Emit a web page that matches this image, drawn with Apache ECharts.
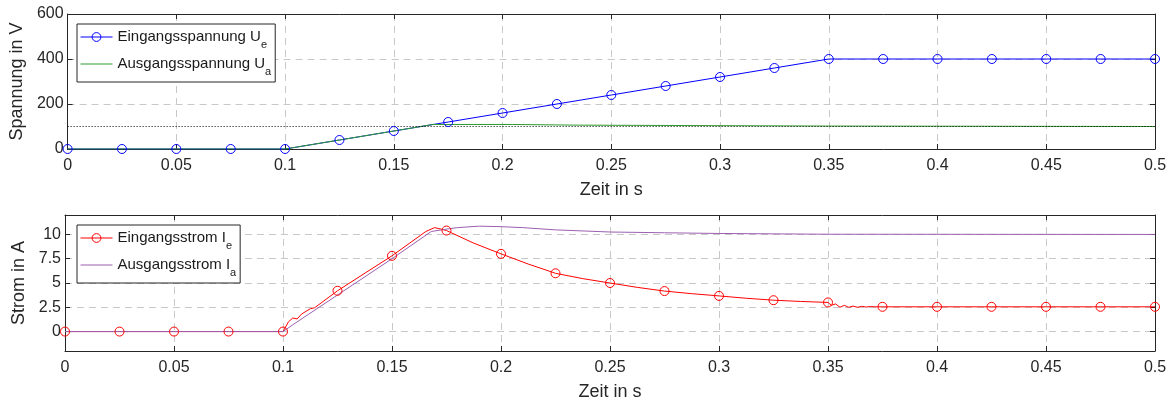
<!DOCTYPE html>
<html>
<head>
<meta charset="utf-8">
<script src="https://cdn.jsdelivr.net/npm/echarts@6/dist/echarts.min.js"></script>
<style>
    html, body { margin: 0; padding: 0; background: #fff; }
    #chart { width: 1176px; height: 405px; }
</style>
</head>
<body>
<div id="chart"></div>
<script>
    // Spannungen (oben)
    const ueT = [0, 0.025, 0.05, 0.075, 0.1, 0.125, 0.15, 0.175, 0.2, 0.225, 0.25, 0.275, 0.3, 0.325, 0.35, 0.375, 0.4, 0.425, 0.45, 0.475, 0.5]
    const ueV = [0, 0, 0, 0, 0, 40, 80, 120, 160, 200, 240, 280, 320, 360, 400, 400, 400, 400, 400, 400, 400]
    const uaT = [0, 0.1, 0.125, 0.15, 0.168, 0.2047, 0.2053, 0.235, 0.2356, 0.35, 0.3506, 0.5]
    const uaV = [0, 0, 40, 80, 109, 109, 106, 106, 102, 102, 100, 100]
    const uRef = 100

    // Ströme (unten)
    const ieT = [0, 0.025, 0.05, 0.075, 0.1, 0.1025, 0.1045, 0.1065, 0.1085, 0.1125, 0.1145, 0.125, 0.15, 0.1655, 0.1695, 0.1715,
        0.175, 0.1875, 0.2, 0.2125, 0.225, 0.2375, 0.25, 0.2625, 0.275, 0.2875, 0.3, 0.3125, 0.325, 0.3375, 0.35,
        0.3515, 0.3535, 0.3555, 0.3575, 0.3595, 0.3615, 0.3635, 0.3655, 0.3675, 0.3695, 0.3715, 0.375, 0.4, 0.425, 0.45, 0.475, 0.5]
    const ieV = [0, 0, 0, 0, 0, 1.0, 1.4, 1.3, 1.8, 2.35, 2.45, 4.2, 7.8, 10.3, 10.7, 10.6,
        10.4, 9.1, 8.0, 6.95, 6.0, 5.45, 5.0, 4.55, 4.17, 3.9, 3.67, 3.43, 3.23, 3.1, 3.0,
        2.7, 2.85, 2.5, 2.7, 2.5, 2.62, 2.5, 2.6, 2.52, 2.58, 2.55, 2.55, 2.55, 2.55, 2.55, 2.55, 2.55]
    const iaT = [0, 0.1, 0.1045, 0.15, 0.168, 0.175, 0.18, 0.19, 0.2, 0.21, 0.225, 0.25, 0.275, 0.3, 0.325, 0.35, 0.3506, 0.5]
    const iaV = [0, 0, 0.7, 7.5, 10.3, 10.55, 10.7, 10.85, 10.8, 10.7, 10.47, 10.25, 10.17, 10.1, 10.06, 10.02, 10.0, 10.0]

    const iTicks = [0, 2.5, 5, 7.5, 10]
    const markerStep = 0.025

    const names = ['Eingangsspannung Ue', 'Ausgangsspannung Ua', 'Eingangsstrom Ie', 'Ausgangsstrom Ia']
    const nameMain = ['Eingangsspannung U', 'Ausgangsspannung U', 'Eingangsstrom I', 'Ausgangsstrom I']
    const nameSub = ['e', 'a', 'e', 'a']

    const font = '"Liberation Sans", Arial, sans-serif'
    const axisColor = '#262626'
    const gridColor = '#c8c8c8'

    function points(t, v, markers) {
        return t.map((x, i) => {
            const k = x / markerStep
            const onMarker = Math.abs(k - Math.round(k)) < 1e-6
            if (markers && !onMarker) return {value: [x, v[i]], symbol: 'none'}
            return [x, v[i]]
        })
    }

    function xAxis(gridIndex, main) {
        return {
            type: 'value', gridIndex: gridIndex, min: 0, max: 0.5, interval: 0.05,
            position: main ? 'bottom' : 'top',
            name: main ? 'Zeit in s' : '', nameLocation: 'middle', nameGap: 32,
            nameTextStyle: {fontFamily: font, fontSize: 18, color: axisColor},
            axisLine: {show: true, onZero: false, lineStyle: {color: axisColor, width: 1}},
            axisTick: {show: true, inside: true, length: 5, lineStyle: {color: axisColor}},
            axisLabel: {show: main, margin: 9, fontFamily: font, fontSize: 16, color: axisColor,
                formatter: v => String(+v.toFixed(3))},
            splitLine: {show: main, lineStyle: {color: gridColor, type: [7, 5], width: 1}}
        }
    }

    function yAxis(gridIndex, main, extra) {
        return Object.assign({
            type: 'value', gridIndex: gridIndex,
            position: main ? 'left' : 'right',
            nameLocation: 'middle', nameGap: 33,
            nameTextStyle: {fontFamily: font, fontSize: 18, color: axisColor},
            axisLine: {show: true, onZero: false, lineStyle: {color: axisColor, width: 1}},
            axisTick: {show: true, inside: true, length: 5, lineStyle: {color: axisColor}},
            axisLabel: {show: main, margin: 4, fontFamily: font, fontSize: 16, color: axisColor},
            splitLine: {show: main, lineStyle: {color: gridColor, type: [7, 5], width: 1}}
        }, extra)
    }

    function legend(top, data) {
        return {
            left: 77, top: top, orient: 'vertical', selectedMode: false,
            backgroundColor: '#fff', borderColor: axisColor, borderWidth: 1, borderRadius: 0,
            padding: [0, 4, 5, 3], itemGap: 1, itemWidth: 32, itemHeight: 11,
            lineStyle: {width: 'inherit'},
            itemStyle: {borderWidth: 'inherit'},
            data: data,
            formatter: name => {
                const i = names.indexOf(name)
                return '{m|' + nameMain[i] + '}{s|' + nameSub[i] + '}'
            },
            textStyle: {
                fontFamily: font, fontSize: 15, lineHeight: 26, color: '#1a1a1a',
                rich: {
                    m: {fontFamily: font, fontSize: 15, lineHeight: 26, color: '#1a1a1a'},
                    s: {fontFamily: font, fontSize: 11, lineHeight: 8, verticalAlign: 'bottom', color: '#1a1a1a'}
                }
            }
        }
    }

    function lineSeries(name, xi, t, v, color, markers) {
        return {
            name: name, type: 'line', xAxisIndex: xi, yAxisIndex: xi,
            data: points(t, v, markers),
            symbol: 'circle', symbolSize: 9, showSymbol: markers, showAllSymbol: true,
            lineStyle: {color: color, width: 1},
            itemStyle: {color: 'rgba(0,0,0,0)', borderColor: color, borderWidth: markers ? 1 : 0},
            color: color,
            emphasis: {disabled: true}, animation: false
        }
    }

    const chart = echarts.init(document.getElementById('chart'))
    chart.setOption({
        animation: false,
        grid: [
            {left: 65, right: 21, top: 14, height: 135},
            {left: 65, right: 21, top: 215, height: 136}
        ],
        xAxis: [xAxis(0, true), xAxis(1, true), xAxis(0, false), xAxis(1, false)],
        yAxis: [
            yAxis(0, true, {min: 0, max: 600, interval: 200, name: 'Spannung in V'}),
            yAxis(1, true, {min: -2, max: 12, name: 'Strom in A',
                axisLabel: {show: true, margin: 4, fontFamily: font, fontSize: 16, color: axisColor, customValues: iTicks},
                axisTick: {show: true, inside: true, length: 5, lineStyle: {color: axisColor}, customValues: iTicks}}),
            yAxis(0, false, {min: 0, max: 600, interval: 200}),
            yAxis(1, false, {min: -2, max: 12,
                axisTick: {show: true, inside: true, length: 5, lineStyle: {color: axisColor}, customValues: iTicks}})
        ],
        legend: [legend(24, [names[0], names[1]]), legend(225, [names[2], names[3]])],
        series: [
            lineSeries(names[0], 0, ueT, ueV, '#0000ff', true),
            lineSeries(names[1], 0, uaT, uaV, '#2e9a2e', false),
            {
                type: 'line', xAxisIndex: 0, yAxisIndex: 0, silent: true, symbol: 'none',
                data: [[0, uRef], [0.5, uRef]],
                lineStyle: {color: '#000', width: 1, type: [1, 2]}
            },
            lineSeries(names[2], 1, ieT, ieV, '#ff0000', true),
            lineSeries(names[3], 1, iaT, iaV, '#9b5fb0', false)
        ]
    })
</script>
</body>
</html>
